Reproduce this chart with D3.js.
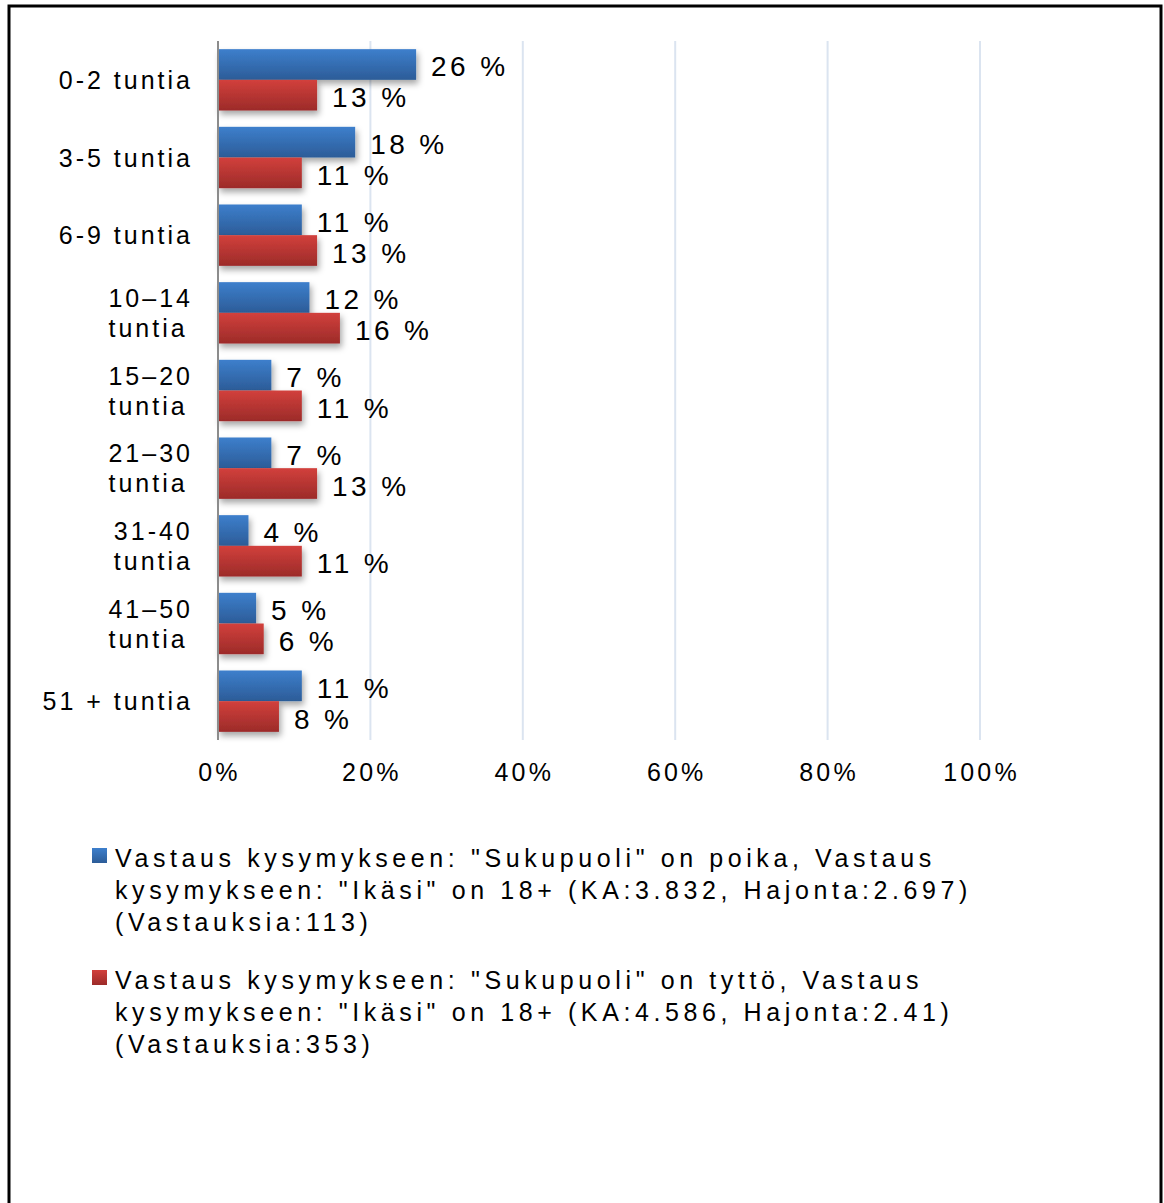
<!DOCTYPE html>
<html>
<head>
<meta charset="utf-8">
<script src="https://cdn.jsdelivr.net/npm/d3@7"></script>
<style>
body { margin: 0; background: #fff; }
text { font-family: "Liberation Sans", Arial, sans-serif; fill: #000; }
</style>
</head>
<body>
<div id="chart"></div>
<script>
var categories = [["0-2 tuntia"], ["3-5 tuntia"], ["6-9 tuntia"], ["10\u201314", "tuntia"], ["15\u201320", "tuntia"],
                  ["21\u201330", "tuntia"], ["31-40", "tuntia"], ["41\u201350", "tuntia"], ["51 + tuntia"]];
var boys = [26, 18, 11, 12, 7, 7, 4, 5, 11];
var girls = [13, 11, 13, 16, 11, 13, 11, 6, 8];
var ticks = [0, 20, 40, 60, 80, 100];
var legend_boys = ['Vastaus kysymykseen: "Sukupuoli" on poika, Vastaus',
                   'kysymykseen: "Ikäsi" on 18+ (KA:3.832, Hajonta:2.697)',
                   '(Vastauksia:113)'];
var legend_girls = ['Vastaus kysymykseen: "Sukupuoli" on tyttö, Vastaus',
                    'kysymykseen: "Ikäsi" on 18+ (KA:4.586, Hajonta:2.41)',
                    '(Vastauksia:353)'];

var width = 1164, height = 1203;
var svg = d3.select('#chart').append('svg')
    .attr('width', width)
    .attr('height', height);

var defs = svg.append('defs');
function addGrad(id, top, bottom)
{
    var g = defs.append('linearGradient').attr('id', id)
        .attr('x1', 0).attr('y1', 0).attr('x2', 0).attr('y2', 1);
    g.append('stop').attr('offset', '0%').attr('stop-color', top);
    g.append('stop').attr('offset', '100%').attr('stop-color', bottom);
}
addGrad('gBlue', '#3d7fcc', '#2c5c98');
addGrad('gRed', '#d2403c', '#9c2b29');
var shadow = defs.append('filter').attr('id', 'shadow')
    .attr('x', '-10%').attr('y', '-20%').attr('width', '130%').attr('height', '160%');
shadow.append('feDropShadow').attr('dx', 2).attr('dy', 4).attr('stdDeviation', 3)
    .attr('flood-color', '#000').attr('flood-opacity', 0.35);

// outer frame
svg.append('rect')
    .attr('x', 9).attr('y', 6)
    .attr('width', 1152).attr('height', 1220)
    .attr('fill', 'none').attr('stroke', '#000').attr('stroke-width', 3);

var x = d3.scaleLinear().domain([0, 100]).range([218, 980]);
var y = d3.scaleBand().domain(d3.range(categories.length))
    .range([41, 740]).paddingInner(0.21).paddingOuter(0.105);
var ySub = d3.scaleBand().domain([0, 1]).range([0, y.bandwidth()]);

// grid
svg.append('g').selectAll('line')
    .data(ticks.slice(1))
    .enter().append('line')
    .attr('x1', function(d) { return x(d); })
    .attr('x2', function(d) { return x(d); })
    .attr('y1', 41).attr('y2', 740)
    .attr('stroke', '#dbe4f0').attr('stroke-width', 2);

// tick labels
svg.append('g').selectAll('text')
    .data(ticks)
    .enter().append('text')
    .attr('x', function(d) { return x(d) + 1.5; })
    .attr('y', 781)
    .attr('text-anchor', 'middle')
    .style('font-size', '25px')
    .style('letter-spacing', '3.2px')
    .text(function(d) { return d + '%'; });

// bars
var series = [{vals: boys, fill: 'url(#gBlue)'}, {vals: girls, fill: 'url(#gRed)'}];
series.forEach(function(s, si)
{
    svg.append('g').attr('filter', 'url(#shadow)').selectAll('rect')
        .data(s.vals)
        .enter().append('rect')
        .attr('x', x(0))
        .attr('y', function(d, i) { return y(i) + ySub(si); })
        .attr('width', function(d) { return x(d) - x(0); })
        .attr('height', ySub.bandwidth())
        .attr('fill', s.fill);

    svg.append('g').selectAll('text')
        .data(s.vals)
        .enter().append('text')
        .attr('x', function(d) { return x(d) + 15; })
        .attr('y', function(d, i) { return y(i) + ySub(si) + ySub.bandwidth() / 2 + 12; })
        .style('font-size', '28px')
        .style('letter-spacing', '3.4px')
        .text(function(d) { return d + ' %'; });
});

// axis line
svg.append('line')
    .attr('x1', x(0)).attr('x2', x(0))
    .attr('y1', 41).attr('y2', 740)
    .attr('stroke', '#8c8c8c').attr('stroke-width', 2);

// category labels: lines left aligned, block right aligned at x=190
var cat = svg.append('g').selectAll('text')
    .data(categories)
    .enter().append('text')
    .style('font-size', '25px')
    .style('letter-spacing', '3px');
cat.each(function(lines, i)
{
    var c = y(i) + y.bandwidth() / 2;
    var t = d3.select(this);
    var spans = [];
    if (lines.length == 1)
    {
        spans.push(t.append('tspan').attr('y', c + 9).text(lines[0]));
    }
    else
    {
        spans.push(t.append('tspan').attr('y', c - 6).text(lines[0]));
        spans.push(t.append('tspan').attr('y', c + 24).text(lines[1]));
    }
    var w = d3.max(spans, function(s) { return s.node().getComputedTextLength(); });
    spans.forEach(function(s) { s.attr('x', 193 - w); });
});

// legend
var legend = [{lines: legend_boys, fill: 'url(#gBlue)', top: 848},
              {lines: legend_girls, fill: 'url(#gRed)', top: 970}];
legend.forEach(function(l)
{
    svg.append('rect')
        .attr('x', 92).attr('y', l.top)
        .attr('width', 15).attr('height', 15)
        .attr('fill', l.fill);
    var t = svg.append('text')
        .style('font-size', '25px')
        .style('letter-spacing', '4.6px');
    l.lines.forEach(function(line, j)
    {
        t.append('tspan').attr('x', 115).attr('y', l.top + 19 + j * 32).text(line);
    });
});
</script>
</body>
</html>
